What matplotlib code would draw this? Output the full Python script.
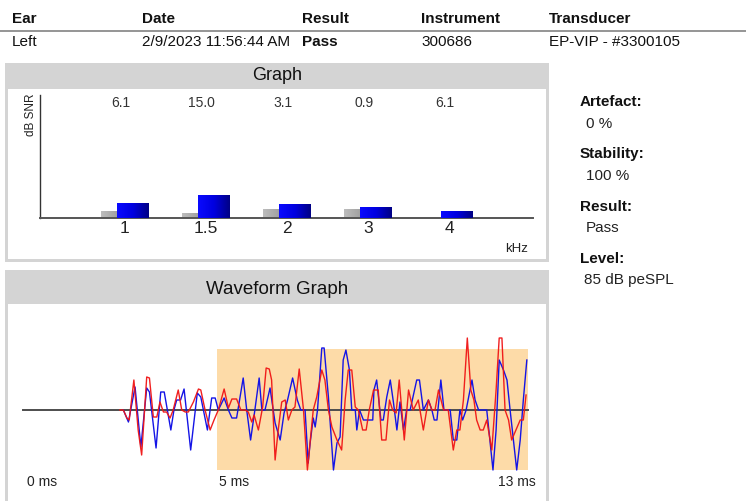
import numpy as np
import matplotlib
matplotlib.use("Agg")
import matplotlib.pyplot as plt
from matplotlib.patches import Rectangle
from matplotlib.colors import LinearSegmentedColormap

plt.rcParams["font.family"] = ["Liberation Sans", "DejaVu Sans"]

# --- datos del informe ---
header_cols = ["Ear", "Date", "Result", "Instrument", "Transducer"]
header_vals = ["Left", "2/9/2023 11:56:44 AM", "Pass", "300686", "EP-VIP - #3300105"]

side_labels = ["Artefact:", "Stability:", "Result:", "Level:"]
side_values = ["0 %", "100 %", "Pass", "85 dB peSPL"]

# gráfico de barras (kHz)
freqs = ["1", "1.5", "2", "3", "4"]
snr = [6.1, 15.0, 3.1, 0.9, 6.1]
noise = [5.4, 3.8, 7.6, 7.6, 0.0]
signal = [12.5, 19.0, 11.4, 8.7, 5.4]

# forma de onda (ms, amplitud)
red_t = [2.50, 2.59, 2.68, 2.74, 2.86, 2.97, 3.06, 3.19, 3.26, 3.36,
         3.45, 3.53, 3.62, 3.70, 3.79, 3.87, 4.00, 4.09, 4.18, 4.26,
         4.39, 4.52, 4.58, 4.69, 4.82, 4.92, 5.03, 5.18, 5.29, 5.38,
         5.50, 5.61, 5.72, 5.80, 5.89, 5.95, 6.06, 6.17, 6.26, 6.34,
         6.40, 6.49, 6.57, 6.66, 6.75, 6.83, 6.92, 7.00, 7.11, 7.22,
         7.32, 7.47, 7.56, 7.69, 7.77, 7.86, 7.95, 8.08, 8.20, 8.29,
         8.37, 8.46, 8.55, 8.63, 8.74, 8.83, 8.91, 9.02, 9.14, 9.23,
         9.34, 9.43, 9.51, 9.60, 9.68, 9.81, 9.92, 10.04, 10.17, 10.30,
         10.43, 10.52, 10.60, 10.69, 10.82, 10.94, 11.07, 11.16, 11.24, 11.33,
         11.43, 11.52, 11.60, 11.67, 11.76, 11.84, 11.93, 12.06, 12.17, 12.25,
         12.32, 12.40, 12.49, 12.57, 12.68, 12.79, 12.87, 12.94]
red_a = [0.0, 0.0, -0.08, -0.10, 0.30, -0.20, -0.45, 0.33, 0.32, -0.07,
         -0.07, 0.08, -0.02, -0.02, -0.08, 0.0, 0.20, 0.0, -0.02, -0.02,
         0.08, 0.21, 0.20, 0.0, -0.20, -0.10, 0.0, 0.21, 0.02, 0.11,
         0.11, 0.0, 0.0, -0.02, -0.12, -0.05, -0.20, 0.03, 0.42, 0.41,
         0.30, -0.50, -0.20, 0.08, 0.10, -0.10, 0.0, 0.03, 0.41, 0.0,
         -0.60, 0.0, 0.13, 0.40, 0.30, 0.0, -0.17, -0.30, -0.40, 0.10,
         0.40, 0.40, 0.03, 0.0, -0.20, -0.20, 0.0, 0.20, 0.20, -0.30,
         -0.30, 0.10, 0.0, -0.03, 0.30, -0.30, 0.20, 0.0, 0.10, -0.20,
         0.10, 0.0, 0.0, 0.20, 0.0, 0.0, -0.40, -0.20, -0.20, 0.10,
         0.72, 0.20, 0.10, -0.10, -0.20, -0.20, -0.10, -0.40, 0.20, 0.72,
         0.72, 0.0, -0.10, -0.30, -0.20, -0.10, -0.10, 0.15]

blue_t = [2.59, 2.72, 2.89, 3.04, 3.19, 3.26, 3.43, 3.55, 3.64, 3.81,
          3.89, 3.96, 4.06, 4.15, 4.32, 4.49, 4.58, 4.75, 4.86, 4.95,
          5.03, 5.18, 5.29, 5.38, 5.50, 5.67, 5.76, 5.86, 5.97, 6.08,
          6.15, 6.23, 6.36, 6.49, 6.62, 6.72, 6.81, 6.94, 7.06, 7.15,
          7.26, 7.34, 7.39, 7.47, 7.52, 7.58, 7.69, 7.75, 7.86, 7.99,
          8.08, 8.16, 8.24, 8.31, 8.40, 8.46, 8.55, 8.59, 8.66, 8.76,
          9.00, 9.03, 9.10, 9.21, 9.27, 9.36, 9.45, 9.53, 9.62, 9.70,
          9.79, 9.87, 9.96, 10.13, 10.20, 10.30, 10.43, 10.52, 10.58, 10.65,
          10.75, 10.83, 10.99, 11.07, 11.16, 11.24, 11.31, 11.40, 11.55, 11.63,
          11.72, 11.93, 12.09, 12.17, 12.25, 12.36, 12.45, 12.53, 12.70, 12.79,
          12.87, 12.96]
blue_a = [0.0, -0.12, 0.23, -0.37, 0.22, 0.18, -0.38, 0.18, 0.18, -0.20,
          0.0, 0.10, 0.10, 0.21, -0.40, 0.17, 0.13, -0.20, 0.12, 0.12,
          0.0, 0.12, 0.0, -0.08, -0.08, 0.32, 0.0, -0.30, 0.0, 0.32,
          0.0, 0.0, 0.22, -0.13, -0.30, -0.03, 0.10, 0.32, 0.10, 0.0,
          0.0, -0.53, -0.33, -0.08, -0.17, 0.0, 0.62, 0.62, 0.13, -0.60,
          -0.33, -0.27, 0.50, 0.60, 0.40, 0.0, 0.0, -0.20, 0.0, -0.10,
          -0.10, 0.20, 0.30, -0.10, -0.10, 0.13, 0.30, 0.08, -0.20, 0.08,
          -0.20, 0.0, 0.0, 0.30, 0.30, 0.0, 0.10, 0.0, -0.10, -0.10,
          0.30, 0.0, 0.0, -0.30, -0.30, 0.0, -0.10, 0.0, 0.30, 0.10,
          0.0, 0.0, -0.60, -0.20, 0.50, 0.40, 0.30, 0.0, -0.60, -0.30,
          0.10, 0.50]

window = (5, 13)          # ventana de análisis (ms)
window_amp = (-0.60, 0.61)
time_labels = [0, 5, 13]

# --- figura ---
W, H = 746, 501
fig = plt.figure(figsize=(W / 100, H / 100), dpi=100)


def px_rect(x0, y0, x1, y1):
    return [x0 / W, 1 - y1 / H, (x1 - x0) / W, (y1 - y0) / H]


def box(x0, y0, x1, y1, color):
    fig.add_artist(Rectangle((x0 / W, 1 - y1 / H), (x1 - x0) / W, (y1 - y0) / H,
                             transform=fig.transFigure, facecolor=color,
                             edgecolor="none", zorder=0))


def ftext(x, y, s, **kw):
    fig.text(x / W, 1 - y / H, s, va="center", **kw)


# cabecera
xs = [12, 142, 302, 421, 549]
for x, c, v in zip(xs, header_cols, header_vals):
    ftext(x, 19, c, fontsize=11, fontweight="bold", color="#111111")
    ftext(x, 42, v, fontsize=11, color="#111111",
          fontweight="bold" if v == "Pass" else "normal")
fig.add_artist(plt.Line2D([0, 1], [1 - 30.5 / H] * 2, transform=fig.transFigure,
                          color="#8c8c8c", lw=1.3))

# datos laterales
for i, (lab, val) in enumerate(zip(side_labels, side_values)):
    y0 = 102 + i * 52.3
    ftext(580, y0, lab, fontsize=11, fontweight="bold", color="#111111")
    ftext(586 if i < 3 else 584, y0 + 21.5, val, fontsize=11, color="#222222")

# paneles
box(5, 63, 549, 262, "#d4d4d4")
box(8, 89, 546, 259, "white")
box(5, 270, 549, 501, "#d4d4d4")
box(8, 304, 546, 501, "white")
ftext(277, 76, "Graph", fontsize=13, ha="center", color="#111111")
ftext(277, 289, "Waveform Graph", fontsize=13.5, ha="center", color="#111111")

# --- gráfico de barras ---
ax = fig.add_axes(px_rect(40, 95, 533, 218))
pos = np.arange(len(freqs))
w = 0.395
gray_bars = ax.bar(pos - 0.099, noise, w, color="none", zorder=2)
blue_bars = ax.bar(pos + 0.099, signal, w, color="none", zorder=3)

grad = np.linspace(0, 1, 64).reshape(1, -1)
gray_cmap = LinearSegmentedColormap.from_list("g", ["#bdbdbd", "#a2a2a2", "#808080"])
blue_cmap = LinearSegmentedColormap.from_list("b", ["#0a0aff", "#0000e0", "#000085"])
for bars, cmap, z in ((gray_bars, gray_cmap, 2), (blue_bars, blue_cmap, 3)):
    for b in bars:
        if b.get_height() <= 0:
            continue
        im = ax.imshow(grad, cmap=cmap, aspect="auto", zorder=z,
                       extent=(b.get_x(), b.get_x() + b.get_width(), 0, b.get_height()))
        im.set_clip_path(b)

ax.set_xlim(-1.049, 5.037)
ax.set_ylim(0, 100)
ax.set_xticks(pos)
ax.set_xticklabels(freqs, fontsize=12.5, color="#222222")
ax.tick_params(axis="x", length=0, pad=2)
ax.set_yticks([])
for s in ["top", "right"]:
    ax.spines[s].set_visible(False)
ax.spines["left"].set_color("#333333")
ax.spines["bottom"].set_color("#555555")
ax.spines["left"].set_linewidth(1.0)
ax.spines["bottom"].set_linewidth(1.4)
ax.patch.set_alpha(0)

for p, v in zip(pos, snr):
    ax.text(p - 0.05, 0.935, f"{v:.1f}", transform=ax.get_xaxis_transform(),
            ha="center", va="center", fontsize=10, color="#333333")

fig.text(31 / W, 1 - 94 / H, "dB SNR", rotation=90, ha="center", va="top",
         fontsize=8.5, color="#222222")
ftext(517, 249, "kHz", fontsize=9.5, ha="center", color="#222222")

# --- forma de onda ---
ax2 = fig.add_axes(px_rect(20, 330, 535, 478))
ax2.add_patch(Rectangle((window[0], window_amp[0]), window[1] - window[0],
                        window_amp[1] - window_amp[0], facecolor="#fddba8",
                        edgecolor="none", zorder=1))
ax2.plot([time_labels[0], time_labels[-1]], [0, 0], color="#4d4d4d", lw=1.4, zorder=2)
ax2.plot(blue_t, blue_a, color="#1414e6", lw=1.0, zorder=3)
ax2.plot(red_t, red_a, color="#f01414", lw=1.0, zorder=4, alpha=0.95)
ax2.set_xlim(-0.067, 13.17)
ax2.set_ylim(-0.68, 0.80)
ax2.axis("off")

offsets = {0: (3, "left"), 5: (1.5, "left"), 13: (5, "right")}
for t in time_labels:
    dx, ha = offsets[t]
    ax2.annotate(f"{t} ms", xy=(t, -0.03), xycoords=("data", "axes fraction"),
                 xytext=(dx, 0), textcoords="offset points",
                 ha=ha, va="center", fontsize=10, color="#222222")

plt.savefig("out.png", dpi=100)
